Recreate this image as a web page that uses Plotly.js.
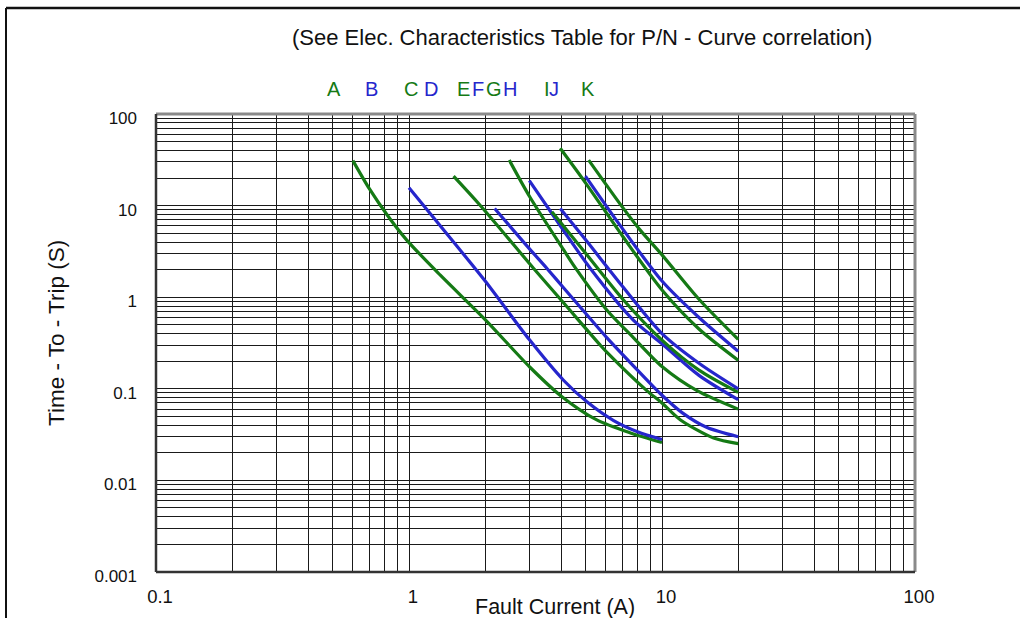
<!DOCTYPE html>
<html><head><meta charset="utf-8">
<script src="https://cdn.plot.ly/plotly-3.0.1.min.js"></script>
<style>html,body{margin:0;padding:0;background:#fff}#chart{width:1020px;height:618px}</style>
</head><body><div id="chart"></div>
<script>
// ---- data ----
const curveNames = ['A','B','C','D','E','F','G','H','I','J','K'];

const xA = [0.6, 0.7, 0.82, 0.98, 1.33, 2.0, 3.0, 4.0, 5.5, 7.5, 10];
const yA = [31, 15, 7.9, 4.2, 1.74, 0.57, 0.173, 0.083, 0.046, 0.033, 0.026];

const xB = [1.0, 1.5, 2.0, 3.0, 4.08, 5.05, 6.44, 8.0, 10];
const yB = [15.7, 4.0, 1.5, 0.34, 0.124, 0.072, 0.045, 0.034, 0.028];

const xC = [1.5, 1.91, 3.11, 4.08, 5.7, 6.06, 8.73, 10, 11.8, 16, 20];
const yC = [21, 10.1, 2.06, 0.87, 0.30, 0.25, 0.095, 0.070, 0.046, 0.029, 0.0252];

const xD = [2.18, 3.0, 3.51, 4.08, 5.7, 6.06, 8.0, 10, 12, 15, 20];
const yD = [9.31, 3.35, 2.06, 1.27, 0.436, 0.36, 0.16, 0.085, 0.055, 0.038, 0.030];

const xE = [2.49, 3.0, 4.08, 4.54, 6.06, 7.72, 10, 13.7, 20];
const yE = [31.4, 12.5, 3.3, 2.1, 0.72, 0.36, 0.175, 0.096, 0.060];

const xF = [2.99, 4.0, 5.21, 7.72, 10, 14, 20];
const yF = [18.7, 5.8, 2.06, 0.56, 0.31, 0.14, 0.076];

const xG = [3.67, 5.0, 7.0, 10, 14, 20];
const yG = [8.56, 3.0, 0.95, 0.34, 0.16, 0.0915];

const xH = [3.96, 5.0, 7.0, 10, 14, 20];
const yH = [9.31, 4.2, 1.3, 0.40, 0.19, 0.100];

const xI = [3.96, 5.0, 7.0, 10, 14, 20];
const yI = [42.2, 17.5, 4.6, 1.2, 0.45, 0.205];

const xJ = [4.98, 6.74, 10, 14, 20];
const yJ = [21, 6.4, 1.5, 0.6, 0.257];

const xK = [5.13, 7.0, 8.2, 10, 14, 20];
const yK = [31.4, 9.5, 5.4, 2.9, 0.95, 0.347];

const xTickLabels = ['0.1', '1', '10', '100'];
const yTickLabels = ['0.001', '0.01', '0.1', '1', '10', '100'];

// ---- styling ----
const GREEN = '#157a15';
const BLUE = '#2626cc';
const FONT = 'Liberation Sans, Arial, sans-serif';
const colorOf = n => ('ACEGIK'.includes(n) ? GREEN : BLUE);

const seriesX = [xA,xB,xC,xD,xE,xF,xG,xH,xI,xJ,xK];
const seriesY = [yA,yB,yC,yD,yE,yF,yG,yH,yI,yJ,yK];

const traces = curveNames.map((n, i) => ({
  x: seriesX[i], y: seriesY[i], name: n, type: 'scatter', mode: 'lines',
  line: {color: colorOf(n), width: 3.2, shape: 'spline', smoothing: 0.8},
  hoverinfo: 'skip', showlegend: false
}));

// grid values: every 1..9 x decade
function logGrid(labels) {
  const vals = [], text = [];
  for (let d = 0; d < labels.length; d++) {
    const base = parseFloat(labels[d]);
    vals.push(base); text.push(labels[d]);
    if (d < labels.length - 1) {
      for (let k = 2; k <= 9; k++) { vals.push(base * k); text.push(''); }
    }
  }
  return {vals, text};
}
const gx = logGrid(xTickLabels);
const gy = logGrid(yTickLabels);

const L = 156, R = 915, T = 114, B = 572, W = 1020, H = 618;
const pxX = px => (px - L) / (R - L);
const pxY = py => (B - py) / (B - T);

const letterPos = [334, 371, 411, 431, 463, 478, 494, 510, 547, 554, 588];
const annotations = curveNames.map((n, i) => ({
  xref: 'paper', yref: 'paper', x: pxX(letterPos[i]), y: pxY(89),
  text: n, showarrow: false, xanchor: 'center', yanchor: 'middle',
  font: {family: FONT, size: 20, color: colorOf(n)}
}));
annotations.push({
  xref: 'paper', yref: 'paper', x: pxX(582), y: pxY(37),
  text: '(See Elec. Characteristics Table for P/N - Curve correlation)',
  showarrow: false, xanchor: 'center', yanchor: 'middle',
  font: {family: FONT, size: 22, color: '#111'}
});
annotations.push({
  xref: 'paper', yref: 'paper', x: pxX(56), y: pxY(333),
  text: 'Time - To - Trip (S)', textangle: -90,
  showarrow: false, xanchor: 'center', yanchor: 'middle',
  font: {family: FONT, size: 22.5, color: '#111'}
});
annotations.push({
  xref: 'paper', yref: 'paper', x: pxX(555), y: pxY(607),
  text: 'Fault Current (A)',
  showarrow: false, xanchor: 'center', yanchor: 'middle',
  font: {family: FONT, size: 21.5, color: '#111'}
});

const shapes = [
  // outer page frame (left + top)
  {type: 'line', xref: 'paper', yref: 'paper', x0: pxX(6), x1: pxX(6), y0: pxY(8), y1: pxY(620), line: {color: '#111', width: 2}},
  {type: 'line', xref: 'paper', yref: 'paper', x0: pxX(6), x1: pxX(1022), y0: pxY(8), y1: pxY(8), line: {color: '#111', width: 2.5}},
  // plot frame: top/right grey, left/bottom dark
  {type: 'line', xref: 'paper', yref: 'paper', x0: 0, x1: 1, y0: 1, y1: 1, line: {color: '#8a8a8a', width: 3}},
  {type: 'line', xref: 'paper', yref: 'paper', x0: 1, x1: 1, y0: 0, y1: 1, line: {color: '#8a8a8a', width: 3}},
  {type: 'line', xref: 'paper', yref: 'paper', x0: 0, x1: 0, y0: 0, y1: 1, line: {color: '#333', width: 2.5}},
  {type: 'line', xref: 'paper', yref: 'paper', x0: 0, x1: 1, y0: 0, y1: 0, line: {color: '#333', width: 2.5}}
];

const layout = {
  width: W, height: H,
  margin: {l: L, r: W - R, t: T, b: H - B, pad: 0},
  paper_bgcolor: '#fff', plot_bgcolor: '#fff',
  showlegend: false,
  font: {family: FONT, size: 16, color: '#111'},
  xaxis: {
    type: 'log', range: [-1, 2], tickmode: 'array', tickvals: gx.vals, ticktext: gx.text,
    showgrid: true, gridcolor: '#1a1a1a', gridwidth: 1, zeroline: false,
    showline: false, ticks: '', ticklabelstandoff: 11, ticklabelshift: 4,
    tickfont: {family: FONT, size: 18.5, color: '#111'}
  },
  yaxis: {
    type: 'log', range: [-3, 2], tickmode: 'array', tickvals: gy.vals, ticktext: gy.text,
    showgrid: true, gridcolor: '#1a1a1a', gridwidth: 1, zeroline: false,
    showline: false, ticks: '', ticklabelstandoff: 18, ticklabelshift: 4,
    tickfont: {family: FONT, size: 17, color: '#111'}
  },
  annotations, shapes
};

Plotly.newPlot('chart', traces, layout, {staticPlot: true, displayModeBar: false});
</script>
</body></html>
